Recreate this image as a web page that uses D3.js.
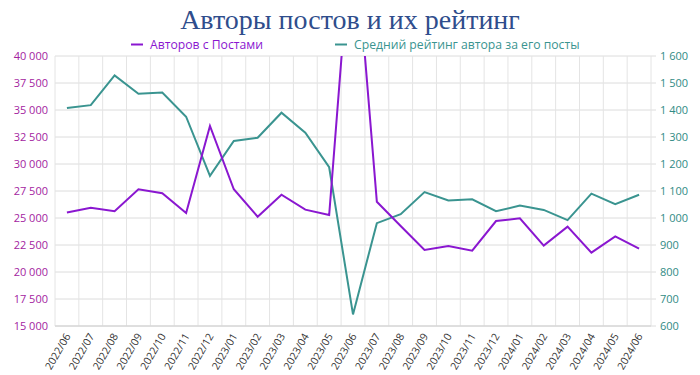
<!DOCTYPE html>
<html>
<head>
<meta charset="utf-8">
<script src="https://cdn.jsdelivr.net/npm/d3@7"></script>
<style>
  body { margin: 0; background: #fff; }
  #chart { width: 700px; height: 375px; }
</style>
</head>
<body>
<div id="chart"></div>
<script>
// authors vs rating chart

const months = ["2022/06","2022/07","2022/08","2022/09","2022/10","2022/11","2022/12",
    "2023/01","2023/02","2023/03","2023/04","2023/05","2023/06","2023/07","2023/08",
    "2023/09","2023/10","2023/11","2023/12","2024/01","2024/02","2024/03","2024/04",
    "2024/05","2024/06"];

// Авторов с Постами (left axis)
const authors = [25500, 25950, 25620, 27660, 27290, 25460, 33520,
    27660, 25120, 27160, 25770, 25280, 53500, 26510, 24260,
    22040, 22410, 21980, 24720, 24970, 22440, 24200, 21790,
    23300, 22160];

// Средний рейтинг автора за его посты (right axis)
const rating = [1407, 1418, 1528, 1460, 1465, 1375, 1156,
    1285, 1297, 1390, 1316, 1188, 643, 981, 1014,
    1096, 1065, 1069, 1025, 1046, 1030, 992, 1090,
    1051, 1086];

const leftTicks = d3.range(15000, 40001, 2500);
const rightTicks = d3.range(600, 1601, 100);

const purple = "#8a17d0";
const teal = "#3a9490";

const margin = { top: 56, right: 49, bottom: 49, left: 55 };
const width = 700 - margin.left - margin.right;
const height = 375 - margin.top - margin.bottom;

const svg = d3.select("#chart")
    .append("svg")
    .attr("width", 700)
    .attr("height", 375);

const fmt = d => d3.format(",")(d).replace(/,/g, " ");

// Title
svg.append("text")
    .attr("x", 350)
    .attr("y", 29)
    .attr("text-anchor", "middle")
    .style("font-family", "'Liberation Serif', 'DejaVu Serif', serif")
    .style("font-size", "28px")
    .style("fill", "#2f4d8c")
    .text("Авторы постов и их рейтинг");

// Legend
const legend = [
    { label: "Авторов с Постами", color: purple, x: 131 },
    { label: "Средний рейтинг автора за его посты", color: teal, x: 335 }
];
legend.forEach(l => {
    svg.append("line")
        .attr("x1", l.x).attr("x2", l.x + 12)
        .attr("y1", 44.5).attr("y2", 44.5)
        .attr("stroke", l.color)
        .attr("stroke-width", 2);
    svg.append("text")
        .attr("x", l.x + 19)
        .attr("y", 49)
        .style("font-family", "'Open Sans', sans-serif")
        .style("font-size", "12.2px")
        .style("fill", l.color)
        .text(l.label);
});

const g = svg.append("g")
    .attr("transform", `translate(${margin.left}, ${margin.top})`);

const x = d3.scaleBand().domain(months).range([0, width]);
const yL = d3.scaleLinear().domain([15000, 40000]).range([height, 0]);
const yR = d3.scaleLinear().domain([600, 1600]).range([height, 0]);

// grid
g.selectAll(".hgrid")
    .data(leftTicks)
    .enter()
    .append("line")
    .attr("x1", 0).attr("x2", width + 5)
    .attr("y1", d => yL(d)).attr("y2", d => yL(d))
    .attr("stroke", "#dcdcdc");

g.selectAll(".vgrid")
    .data(months.concat(["end"]))
    .enter()
    .append("line")
    .attr("x1", (d, i) => i * x.step()).attr("x2", (d, i) => i * x.step())
    .attr("y1", 0).attr("y2", height)
    .attr("stroke", "#e4e4e4");

g.append("line")
    .attr("x1", 0).attr("x2", width)
    .attr("y1", height).attr("y2", height)
    .attr("stroke", "#d0d0d0");

// left axis labels
g.selectAll(".ltick")
    .data(leftTicks)
    .enter()
    .append("text")
    .attr("x", -7)
    .attr("y", d => yL(d) + 4)
    .attr("text-anchor", "end")
    .style("font-family", "'Open Sans', sans-serif")
    .style("font-size", "11px")
    .style("fill", "#a3239f")
    .text(fmt);

// right axis labels
g.selectAll(".rtick")
    .data(rightTicks)
    .enter()
    .append("text")
    .attr("x", width + 9)
    .attr("y", d => yR(d) + 4)
    .style("font-family", "'Open Sans', sans-serif")
    .style("font-size", "11px")
    .style("fill", "#318b85")
    .text(fmt);

// x labels
g.selectAll(".xlab")
    .data(months)
    .enter()
    .append("text")
    .attr("transform", d => `translate(${x(d) + x.bandwidth() / 2 + 4}, ${height + 10}) rotate(-60)`)
    .attr("text-anchor", "end")
    .style("font-family", "'Open Sans', sans-serif")
    .style("font-size", "10.5px")
    .style("fill", "#333")
    .text(d => d);

// clip
g.append("clipPath").attr("id", "clip")
    .append("rect").attr("x", -5).attr("y", 0).attr("width", width + 10).attr("height", height);

const cx = d => x(d) + x.bandwidth() / 2;

const lineL = d3.line().x((d, i) => cx(months[i])).y(d => yL(d));
const lineR = d3.line().x((d, i) => cx(months[i])).y(d => yR(d));

g.append("path")
    .datum(rating)
    .attr("clip-path", "url(#clip)")
    .attr("d", lineR)
    .attr("fill", "none")
    .attr("stroke", teal)
    .attr("stroke-width", 2);

g.append("path")
    .datum(authors)
    .attr("clip-path", "url(#clip)")
    .attr("d", lineL)
    .attr("fill", "none")
    .attr("stroke", purple)
    .attr("stroke-width", 2);
</script>
</body>
</html>
